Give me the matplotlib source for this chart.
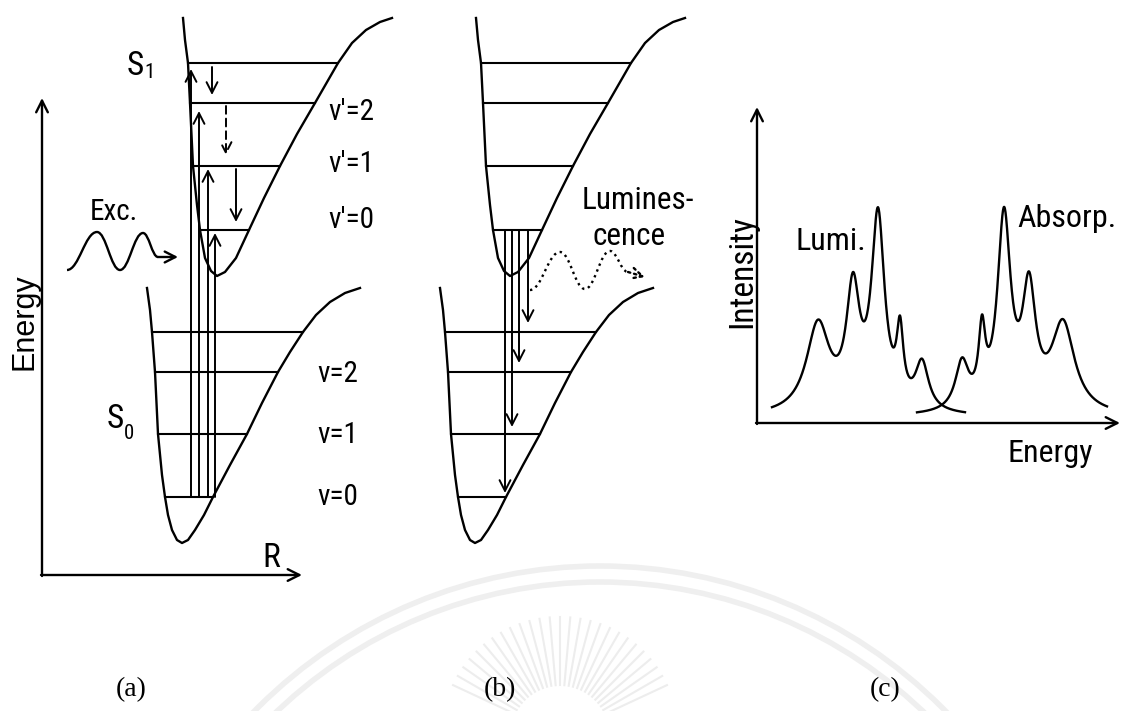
"""
Potential curves (a), emission (b) and mirror-image spectra (c).
Everything is drawn in figure pixel coordinates (y grows downward).
"""
import numpy as np
import matplotlib
matplotlib.use('Agg')
import matplotlib.pyplot as plt
import matplotlib.font_manager as fm
from matplotlib.path import Path
from matplotlib.patches import PathPatch, Arc

# excited state S1, panel (a)
S1_X = [183, 185, 188, 190, 193, 197, 200, 205, 211, 217, 225, 236, 249,
        264, 280, 297, 315, 338, 352, 366, 380, 392]
S1_Y = [18, 40, 63, 103, 166, 205, 230, 258, 271, 276, 272, 258, 230,
        198, 166, 134, 103, 63, 43, 30, 22, 18]
S1_LEVEL_Y = [63, 103, 166, 230]
S1_LEVEL_XL = [188, 190, 193, 200]
S1_LEVEL_XR = [338, 315, 280, 249]
S1_LABELS = ["v'=2", "v'=1", "v'=0"]
S1_LABEL_Y = [112, 164, 220]

# ground state S0, panel (a)
S0_X = [147, 150, 152, 155, 158, 162, 165, 168, 172, 177, 182, 188, 195,
        204, 213, 230, 247, 262, 278, 290, 303, 316, 330, 345, 360]
S0_Y = [288, 310, 332, 372, 434, 475, 497, 515, 530, 540, 543, 540, 530,
        515, 497, 465, 434, 403, 372, 352, 332, 315, 302, 293, 288]
S0_LEVEL_Y = [332, 372, 434, 497]
S0_LEVEL_XL = [152, 155, 158, 165]
S0_LEVEL_XR = [303, 278, 247, 213]
S0_LABELS = ["v=2", "v=1", "v=0"]
S0_LABEL_Y = [374, 435, 497]

PANEL_B_SHIFT = 293

# absorption (a): from S0 v=0 up to the S1 levels
ABS_X = [191, 199, 208, 215]
ABS_START = 497
ABS_TIP = [69, 111, 169, 233]

# vibrational relaxation (a)
RELAX_X = [212, 226, 236]
RELAX_START = [67, 106, 169]
RELAX_TIP = [95, 155, 222]
RELAX_LS = ['-', (0, (4, 2.5)), '-']

# emission (b): from S1 v'=0 down to the S0 levels
EMIS_X = [505, 512, 519, 528]
EMIS_START = 230
EMIS_TIP = [493, 427, 363, 323]

# photon waves (extrema of the drawn wiggles)
EXC_WAVE_X = [67, 97, 120, 143, 158]
EXC_WAVE_Y = [270, 232, 270, 233, 257]
EXC_ARROW = (178, 257)
LUM_WAVE_X = [530, 560, 585, 610, 628]
LUM_WAVE_Y = [290, 252, 289, 251, 272]
LUM_ARROW = (645, 277)

# spectra (c): peak position, height above baseline, half width (px)
LUMI_POS = [818, 853, 878, 900, 922]
LUMI_HEIGHT = [88, 114, 191, 68, 47]
LUMI_WIDTH = [14, 8, 8, 4, 8]
LUMI_RANGE = (772, 965)
ABSO_POS = [962, 982, 1004, 1029, 1063]
ABSO_HEIGHT = [47, 68, 191, 114, 88]
ABSO_WIDTH = [8, 4, 8, 8, 14]
ABSO_RANGE = (917, 1107)
SPEC_BASE = 417
C_ORIGIN = (757, 423)
C_YTOP = 107
C_XEND = 1120

PANEL_NAMES = ['(a)', '(b)', '(c)']
PANEL_NAME_X = [131, 500, 885]

LW = 1.7


def narrow_file():
    """path of the first installed condensed sans face, else None"""
    cands = [f for f in fm.fontManager.ttflist
             if f.style == 'normal' and f.weight in (400, 'normal', 'regular')
             and ('Narrow' in f.name or 'Condensed' in f.name
                  or f.stretch in ('condensed', 'semi-condensed'))]
    order = ['Liberation Sans Narrow', 'Roboto Condensed', 'Archivo Narrow',
             'Open Sans Condensed', 'Noto Sans', 'DejaVu Sans']
    cands.sort(key=lambda f: order.index(f.name) if f.name in order else 99)
    return cands[0].fname if cands else None


NARROW_FILE = narrow_file()


def sans(size, narrow=True):
    if narrow and NARROW_FILE:
        return fm.FontProperties(fname=NARROW_FILE, size=size)
    return fm.FontProperties(family=['Liberation Sans', 'DejaVu Sans'], size=size)


def arrow(ax, x0, y0, x1, y1, ls='-', lw=1.4):
    ax.annotate('', xy=(x1, y1), xytext=(x0, y0),
                arrowprops=dict(arrowstyle='->,head_length=0.55,head_width=0.28',
                                lw=lw, color='k', ls=ls, shrinkA=0, shrinkB=0,
                                mutation_scale=14))


def axis_arrow(ax, x0, y0, x1, y1):
    ax.annotate('', xy=(x1, y1), xytext=(x0, y0),
                arrowprops=dict(arrowstyle='->,head_length=0.6,head_width=0.3',
                                lw=LW, color='k', shrinkA=0, shrinkB=0,
                                mutation_scale=14))


def wave(ax, xs, ys, ls='-'):
    verts = [(xs[0], ys[0])]
    codes = [Path.MOVETO]
    for i in range(len(xs) - 1):
        d = (xs[i + 1] - xs[i]) * 0.4
        verts += [(xs[i] + d, ys[i]), (xs[i + 1] - d, ys[i + 1]), (xs[i + 1], ys[i + 1])]
        codes += [Path.CURVE4] * 3
    ax.add_patch(PathPatch(Path(verts, codes), fc='none', ec='k', lw=LW, ls=ls))


def spectrum(pos, height, width, xr):
    x = np.linspace(xr[0], xr[1], 600)
    y = np.zeros_like(x)
    for p, h, w in zip(pos, height, width):
        y += h / (1 + ((x - p) / w) ** 2)
    return x, SPEC_BASE - y


def potentials(ax, dx):
    ax.plot(np.add(S1_X, dx), S1_Y, 'k', lw=LW)
    ax.plot(np.add(S0_X, dx), S0_Y, 'k', lw=LW)
    for y, xl, xr in zip(S1_LEVEL_Y, S1_LEVEL_XL, S1_LEVEL_XR):
        ax.plot([xl + dx, xr + dx], [y, y], 'k', lw=1.5)
    for y, xl, xr in zip(S0_LEVEL_Y, S0_LEVEL_XL, S0_LEVEL_XR):
        ax.plot([xl + dx, xr + dx], [y, y], 'k', lw=1.5)


fig = plt.figure(figsize=(11.24, 7.11), dpi=100)
ax = fig.add_axes([0, 0, 1, 1])
ax.set_xlim(0, 1124)
ax.set_ylim(711, 0)
ax.axis('off')

# faint watermark behind everything
for r in (484, 468):
    ax.add_patch(Arc((600, 1050), 2 * r, 2 * r, theta1=180, theta2=360,
                     color='#efefef', lw=4, zorder=0))
for ang in np.arange(25, 160, 5):
    t = np.radians(ang)
    ax.plot([560 + 50 * np.cos(t), 560 + 118 * np.cos(t)],
            [735 - 50 * np.sin(t), 735 - 118 * np.sin(t)],
            color='#ededed', lw=1.5, zorder=0)

# ---- panel (a)
axis_arrow(ax, 42, 576, 42, 98)
axis_arrow(ax, 41, 575, 302, 575)
potentials(ax, 0)
for x, tip in zip(ABS_X, ABS_TIP):
    arrow(ax, x, ABS_START, x, tip)
for x, y0, tip, ls in zip(RELAX_X, RELAX_START, RELAX_TIP, RELAX_LS):
    arrow(ax, x, y0, x, tip, ls=ls)
wave(ax, EXC_WAVE_X, EXC_WAVE_Y)
arrow(ax, EXC_WAVE_X[-1], EXC_WAVE_Y[-1], *EXC_ARROW, lw=LW)

ax.text(127, 75, 'S', fontproperties=sans(24), va='baseline')
ax.text(144, 78, '1', fontproperties=sans(15), va='baseline')
ax.text(107, 428, 'S', fontproperties=sans(24), va='baseline')
ax.text(124, 439, '0', fontproperties=sans(15), va='baseline')
for lab, y in zip(S1_LABELS, S1_LABEL_Y):
    ax.text(328, y, lab, fontproperties=sans(21), va='center')
for lab, y in zip(S0_LABELS, S0_LABEL_Y):
    ax.text(317, y, lab, fontproperties=sans(21), va='center')
ax.text(114, 212, 'Exc.', fontproperties=sans(21), ha='center', va='center')
ax.text(262, 567, 'R', fontproperties=sans(24), va='baseline')
ax.text(24, 322, 'Energy', fontproperties=sans(22, narrow=False), rotation=90,
        ha='center', va='center')

# ---- panel (b)
potentials(ax, PANEL_B_SHIFT)
for x, tip in zip(EMIS_X, EMIS_TIP):
    arrow(ax, x, EMIS_START, x, tip)
wave(ax, LUM_WAVE_X, LUM_WAVE_Y, ls=':')
arrow(ax, LUM_WAVE_X[-1], LUM_WAVE_Y[-1], *LUM_ARROW, ls=':', lw=LW)
ax.text(582, 209, 'Lumines-', fontproperties=sans(22.5), va='baseline')
ax.text(593, 245, 'cence', fontproperties=sans(22.5), va='baseline')

# ---- panel (c)
ox, oy = C_ORIGIN
axis_arrow(ax, ox, oy + 1, ox, C_YTOP)
axis_arrow(ax, ox - 1, oy, C_XEND, oy)
x, y = spectrum(LUMI_POS, LUMI_HEIGHT, LUMI_WIDTH, LUMI_RANGE)
ax.plot(x, y, 'k', lw=LW)
x, y = spectrum(ABSO_POS, ABSO_HEIGHT, ABSO_WIDTH, ABSO_RANGE)
ax.plot(x, y, 'k', lw=LW)
ax.text(742, 272, 'Intensity', fontproperties=sans(24), rotation=90,
        ha='center', va='center')
ax.text(1050, 453, 'Energy', fontproperties=sans(23), ha='center', va='center')
ax.text(795, 250, 'Lumi.', fontproperties=sans(23), va='baseline')
ax.text(1017, 227, 'Absorp.', fontproperties=sans(23), va='baseline')

for name, x in zip(PANEL_NAMES, PANEL_NAME_X):
    ax.text(x, 690, name, family=['Liberation Serif', 'DejaVu Serif'], size=20,
            ha='center', va='center')

fig.savefig('out.png', dpi=100)
